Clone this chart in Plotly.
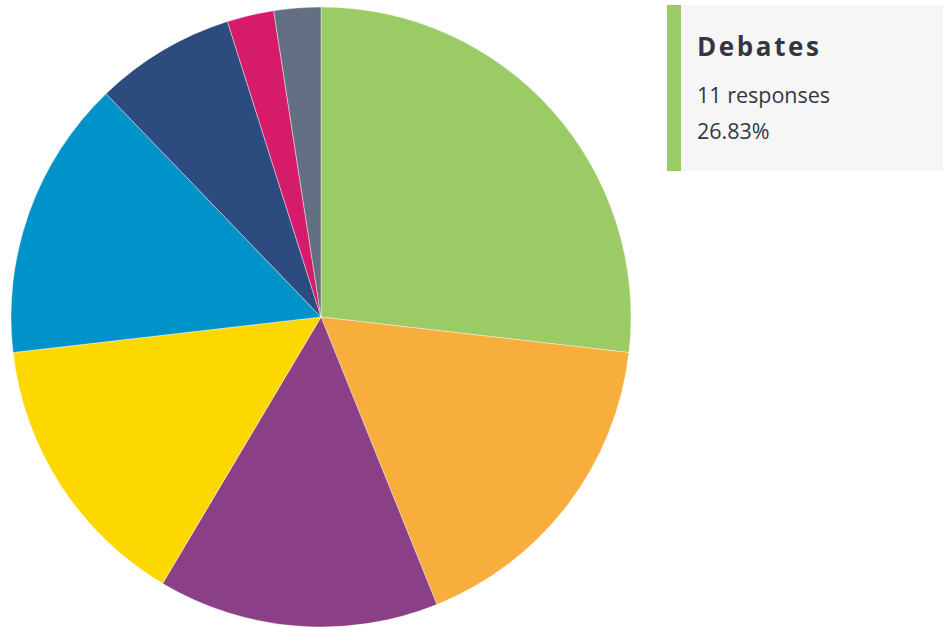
import plotly.graph_objects as go

# Response counts per category, in clockwise order from 12 o'clock
categories = ["Debates", "Category 2", "Category 3", "Category 4",
              "Category 5", "Category 6", "Category 7", "Category 8"]
responses = [11, 7, 6, 6, 6, 3, 1, 1]
colors = ["#9bcb65", "#f8ae3c", "#8b3f86", "#fcd800",
          "#0093c9", "#2c4b7e", "#d61b6a", "#636f83"]

W, H = 943, 627

def px_x(x):
    return x / W

def px_y(y):
    return 1 - y / H

total = sum(responses)
highlight = 0
share = responses[highlight] / total * 100

fig = go.Figure(go.Pie(
    labels=categories,
    values=responses,
    sort=False,
    direction="clockwise",
    rotation=0,
    marker=dict(colors=colors, line=dict(color="white", width=0.4)),
    textinfo="none",
    hovertemplate="%{label}<br>%{value} responses<br>%{percent}<extra></extra>",
    domain=dict(x=[px_x(11), px_x(631)], y=[px_y(627), px_y(7)]),
    showlegend=False,
))

# Detail panel for the highlighted category
fig.add_shape(type="rect", xref="paper", yref="paper",
              x0=px_x(667), x1=1.0, y0=px_y(171), y1=px_y(5),
              fillcolor="#f6f6f6", line=dict(width=0), layer="below")
fig.add_shape(type="rect", xref="paper", yref="paper",
              x0=px_x(667), x1=px_x(681), y0=px_y(171), y1=px_y(5),
              fillcolor=colors[highlight], line=dict(width=0))

text_color = "#323843"
# Title with a little letter spacing (thin spaces between glyphs)
title = "\u200a".join(categories[highlight])
fig.add_annotation(xref="paper", yref="paper", x=px_x(695), y=px_y(46),
                   xanchor="left", yanchor="middle", showarrow=False,
                   text="<b>" + title + "</b>",
                   font=dict(family="Open Sans", size=26, color=text_color))
fig.add_annotation(xref="paper", yref="paper", x=px_x(695), y=px_y(94),
                   xanchor="left", yanchor="middle", showarrow=False,
                   text=f"{responses[highlight]} responses",
                   font=dict(family="Open Sans", size=21.5, color=text_color))
fig.add_annotation(xref="paper", yref="paper", x=px_x(695), y=px_y(131),
                   xanchor="left", yanchor="middle", showarrow=False,
                   text=f"{share:.2f}%",
                   font=dict(family="Open Sans", size=21.5, color=text_color))

fig.update_layout(
    width=W, height=H,
    margin=dict(l=0, r=0, t=0, b=0),
    paper_bgcolor="white",
    plot_bgcolor="white",
)

fig.write_html("out.html")
